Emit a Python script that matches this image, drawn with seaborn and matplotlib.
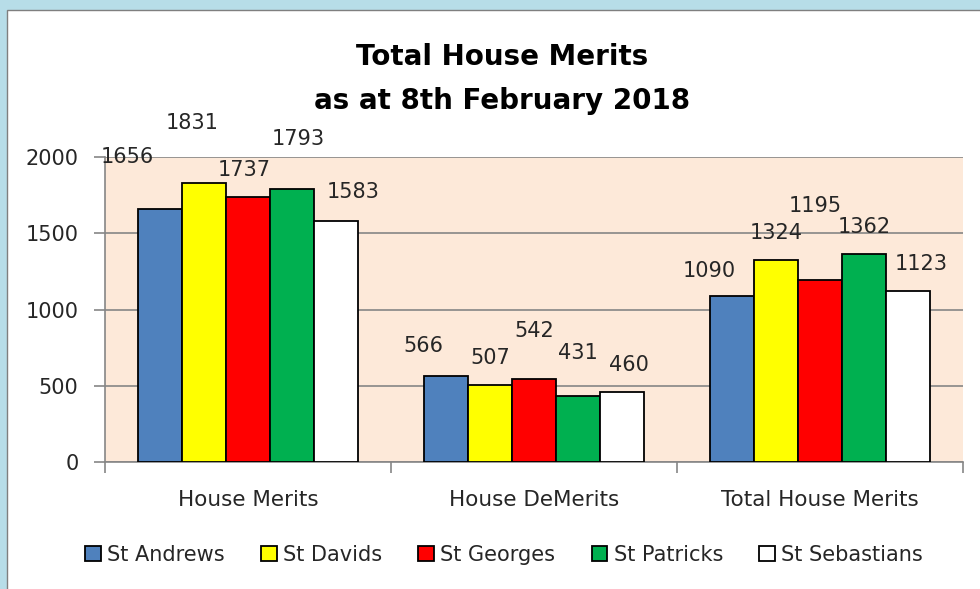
import matplotlib
matplotlib.use('Agg')
import matplotlib.pyplot as plt
from matplotlib.patches import Rectangle
import numpy as np
import pandas as pd
import seaborn as sns

categories = ['House Merits', 'House DeMerits', 'Total House Merits']
houses = ['St Andrews', 'St Davids', 'St Georges', 'St Patricks', 'St Sebastians']
merits = [1656, 1831, 1737, 1793, 1583]
demerits = [566, 507, 542, 431, 460]
totals = [1090, 1324, 1195, 1362, 1123]

colors = ['#4f81bd', '#ffff00', '#ff0000', '#00b050', '#ffffff']

# hand placed label offsets (pixels) like the original sheet
label_dx = [[-33, -12, -4, 6, 17],
            [-23, 0, 0, 0, 7],
            [-23, 0, -5, 0, 13]]
label_dy = [[52, 60, 27, 50, 29],
            [30, 27, 48, 43, 27],
            [25, 27, 74, 27, 27]]

rows = []
for cat, vals in zip(categories, [merits, demerits, totals]):
    for h, v in zip(houses, vals):
        rows.append({'category': cat, 'house': h, 'value': v})
df = pd.DataFrame(rows)

sns.set_style('white')
plt.rcParams['font.family'] = ['DejaVu Sans']
txt = '#262626'
grid_c = '#868686'

fig = plt.figure(figsize=(9.8, 5.89), dpi=100, facecolor='#b7dde8')
fig.add_artist(Rectangle((7 / 980, -0.01), 1.0, 1 - 10 / 589 + 0.01, transform=fig.transFigure,
                         facecolor='white', edgecolor='#7f7f7f', linewidth=1, zorder=-1))
ax = fig.add_axes([105 / 980, 1 - 462 / 589, (963 - 105) / 980, (462 - 157) / 589])

sns.barplot(data=df, x='category', y='value', hue='house', order=categories, hue_order=houses,
            palette=colors, width=0.77, edgecolor='black', linewidth=1.3, saturation=1,
            ax=ax, zorder=3)

for i, cont in enumerate(ax.containers):
    for j, bar in enumerate(cont):
        v = bar.get_height()
        ax.annotate(str(int(v)), xy=(bar.get_x() + bar.get_width() / 2, v),
                    xytext=(label_dx[j][i], label_dy[j][i]), textcoords='offset pixels',
                    ha='center', va='center', fontsize=15, color=txt, zorder=5,
                    annotation_clip=False)

ax.set_facecolor('#fde9d9')
ax.set_ylim(0, 2000)
ax.set_xlim(-0.5, 2.5)
ax.set_yticks(np.arange(0, 2001, 500))
ax.yaxis.grid(True, color=grid_c, linewidth=1.2, zorder=0)
ax.set_axisbelow(True)
ax.set_xlabel('')
ax.set_ylabel('')
for s in ['top', 'right']:
    ax.spines[s].set_visible(False)
for s in ['left', 'bottom']:
    ax.spines[s].set_color(grid_c)
    ax.spines[s].set_linewidth(1.2)

ax.tick_params(axis='y', which='major', left=True, length=8, width=1.2, color=grid_c,
               pad=11, labelsize=15, labelcolor=txt)
ax.tick_params(axis='x', which='major', bottom=False, length=0, pad=20, labelsize=15.5, labelcolor=txt)
ax.set_xticks([-0.5, 0.5, 1.5, 2.5], minor=True)
ax.tick_params(axis='x', which='minor', bottom=True, length=8, width=1.2, color=grid_c)

handles, labels = ax.get_legend_handles_labels()
ax.get_legend().remove()
fig.legend(handles, labels, loc='center', bbox_to_anchor=(504 / 980, 1 - 555 / 589), ncol=5,
           frameon=False, fontsize=15, handlelength=0.75, handleheight=0.75, handletextpad=0.3,
           columnspacing=1.75, labelcolor=txt)

fig.text(502 / 980, 1 - 57 / 589, 'Total House Merits', ha='center', va='center',
         fontsize=20, fontweight='bold', color='black')
fig.text(502 / 980, 1 - 101 / 589, 'as at 8th February 2018', ha='center', va='center',
         fontsize=20, fontweight='bold', color='black')

fig.savefig('out.png', dpi=100, facecolor=fig.get_facecolor())
